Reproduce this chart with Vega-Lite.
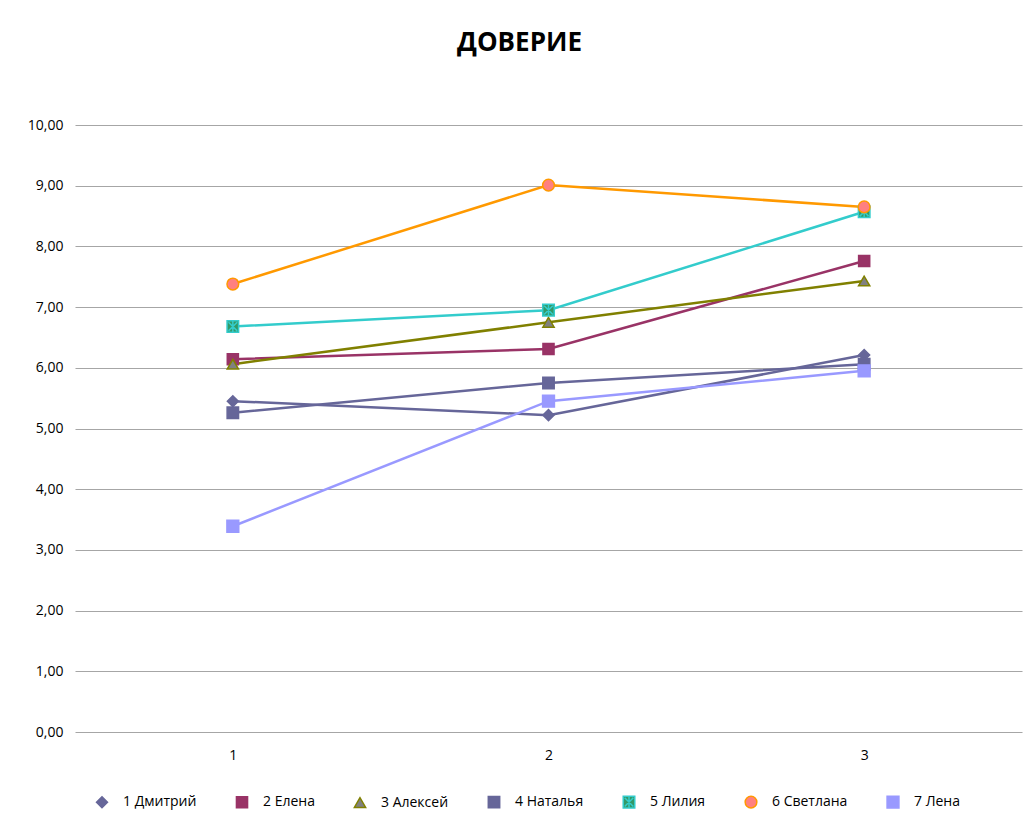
{
  "$schema": "https://vega.github.io/schema/vega-lite/v6.json",
  "width": 947,
  "height": 607,
  "autosize": {"type": "none"},
  "padding": {"left": 75, "top": 125, "right": 3, "bottom": 88},
  "background": "white",
  "title": {
    "text": "ДОВЕРИЕ",
    "font": "Open Sans",
    "fontSize": 26,
    "fontWeight": "bold",
    "color": "#000000",
    "anchor": "middle",
    "dx": -29,
    "offset": 62
  },
  "config": {
    "view": {"stroke": null},
    "font": "Open Sans"
  },
  "data": {
    "values": [
      {"name": "1 Дмитрий", "x": "1", "y": 5.45},
      {"name": "1 Дмитрий", "x": "2", "y": 5.22},
      {"name": "1 Дмитрий", "x": "3", "y": 6.21},
      {"name": "2 Елена", "x": "1", "y": 6.14},
      {"name": "2 Елена", "x": "2", "y": 6.31},
      {"name": "2 Елена", "x": "3", "y": 7.76},
      {"name": "3 Алексей", "x": "1", "y": 6.06},
      {"name": "3 Алексей", "x": "2", "y": 6.75},
      {"name": "3 Алексей", "x": "3", "y": 7.43},
      {"name": "4 Наталья", "x": "1", "y": 5.26},
      {"name": "4 Наталья", "x": "2", "y": 5.75},
      {"name": "4 Наталья", "x": "3", "y": 6.06},
      {"name": "5 Лилия", "x": "1", "y": 6.68},
      {"name": "5 Лилия", "x": "2", "y": 6.95},
      {"name": "5 Лилия", "x": "3", "y": 8.57},
      {"name": "6 Светлана", "x": "1", "y": 7.38},
      {"name": "6 Светлана", "x": "2", "y": 9.01},
      {"name": "6 Светлана", "x": "3", "y": 8.65},
      {"name": "7 Лена", "x": "1", "y": 3.39},
      {"name": "7 Лена", "x": "2", "y": 5.45},
      {"name": "7 Лена", "x": "3", "y": 5.95}
    ]
  },
  "encoding": {
    "x": {
      "field": "x",
      "type": "ordinal",
      "scale": {"paddingInner": 0, "paddingOuter": 0},
      "axis": {
        "title": null,
        "labelAngle": 0,
        "domain": false,
        "ticks": false,
        "grid": false,
        "labelPadding": 16,
        "labelFont": "Open Sans",
        "labelFontSize": 14,
        "labelColor": "#000000"
      }
    },
    "y": {
      "field": "y",
      "type": "quantitative",
      "scale": {"domain": [0, 10], "nice": false},
      "axis": {
        "title": null,
        "values": [0, 1, 2, 3, 4, 5, 6, 7, 8, 9, 10],
        "labelExpr": "replace(format(datum.value, '.2f'), '.', ',')",
        "domain": false,
        "ticks": false,
        "labelPadding": 12,
        "gridColor": "#A6A6A6",
        "gridWidth": 1.2,
        "labelFont": "Open Sans",
        "labelFontSize": 14,
        "labelColor": "#000000"
      }
    }
  },
  "layer": [
    {
      "mark": {"type": "line", "strokeWidth": 2.5},
      "encoding": {
        "stroke": {
          "field": "name",
          "type": "nominal",
          "scale": {
            "domain": ["1 Дмитрий", "2 Елена", "3 Алексей", "4 Наталья", "5 Лилия", "6 Светлана", "7 Лена"],
            "range": ["#666699", "#993366", "#808000", "#666699", "#33CCCC", "#FF9900", "#9999FF"]
          }
        },
        "detail": {"field": "name"}
      }
    },
    {
      "mark": {"type": "point", "filled": true, "opacity": 1, "strokeWidth": 1.5},
      "encoding": {
        "fill": {
          "field": "name",
          "type": "nominal",
          "scale": {
            "domain": ["1 Дмитрий", "2 Елена", "3 Алексей", "4 Наталья", "5 Лилия", "6 Светлана", "7 Лена"],
            "range": ["#666699", "#993366", "#808080", "#666699", "#339966", "#FF8080", "#9999FF"]
          }
        },
        "stroke": {
          "field": "name",
          "type": "nominal"
        },
        "shape": {
          "field": "name",
          "type": "nominal",
          "scale": {
            "domain": ["1 Дмитрий", "2 Елена", "3 Алексей", "4 Наталья", "5 Лилия", "6 Светлана", "7 Лена"],
            "range": ["diamond", "square", "triangle-up", "square", "M-1,-1H1V1H-1Z M-0.75,-0.75L0.75,0.75 M-0.75,0.75L0.75,-0.75 M0,-0.9V0.9", "circle", "square"]
          },
          "legend": {
            "title": null,
            "orient": "none",
            "direction": "horizontal",
            "legendX": 10,
            "legendY": 670,
            "columns": 7,
            "columnPadding": 28,
            "symbolOffset": 10,
            "labelOffset": 14,
            "labelFont": "Open Sans",
            "labelFontSize": 14,
            "labelColor": "#000000",
            "symbolStrokeWidth": 1.5
          }
        },
        "size": {
          "field": "name",
          "type": "nominal",
          "scale": {
            "domain": ["1 Дмитрий", "2 Елена", "3 Алексей", "4 Наталья", "5 Лилия", "6 Светлана", "7 Лена"],
            "range": [120, 140, 170, 260, 260, 120, 260]
          }
        }
      }
    }
  ]
}
